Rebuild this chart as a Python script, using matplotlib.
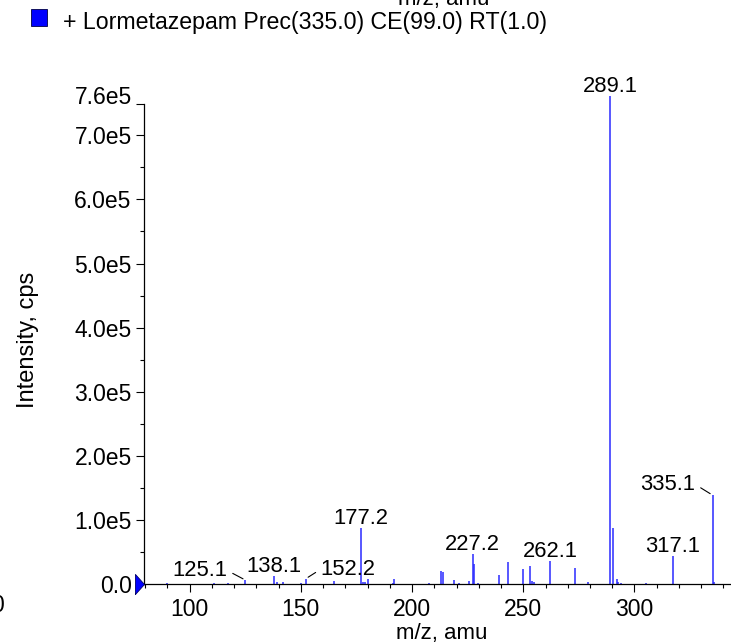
import numpy as np
import matplotlib
matplotlib.use('Agg')
import matplotlib.pyplot as plt
from matplotlib.ticker import MultipleLocator, FixedLocator

plt.rcParams['font.family'] = ['Liberation Sans', 'DejaVu Sans']

# product ion spectrum, m/z and intensity (cps)
mz = [90.0, 111.1, 117.1, 125.1, 138.1, 139.1, 142.1, 150.0, 152.2, 165.1,
      177.2, 178.1, 178.9, 180.1, 191.3, 192.0, 207.6, 213.1, 214.1, 219.0,
      221.0, 225.8, 227.2, 228.0, 229.8, 239.0, 243.0, 250.0, 253.1, 254.1,
      255.0, 262.1, 273.2, 279.0, 289.1, 290.5, 292.0, 292.8, 294.0, 305.1,
      317.1, 335.1, 335.9]
intensity = [1500, 2500, 2000, 6500, 13000, 3000, 3600, 2500, 8700, 5600,
             88000, 3000, 3000, 8000, 2500, 8000, 1500, 21000, 19000, 7000,
             1500, 5000, 47000, 31000, 1500, 14000, 34000, 24000, 28500, 5000,
             4000, 36000, 25000, 3000, 761000, 87000, 8000, 4000, 2000, 2500,
             44000, 139000, 3000]

labeled = [125.1, 138.1, 152.2, 177.2, 227.2, 262.1, 289.1, 317.1, 335.1]
legend_text = '+ Lormetazepam Prec(335.0) CE(99.0) RT(1.0)'

W, H = 731, 643
fig = plt.figure(figsize=(W / 100, H / 100), dpi=100)
ax = fig.add_axes([144.3 / W, (H - 584.3) / H, (W - 144.3) / W, 480.3 / H])

ax.vlines(mz, 0, intensity, color='#2a2aff', lw=1.1, clip_on=False)

ax.set_xlim(79.6, 343.4)
ax.set_ylim(0, 7.487e5)

for s in ['top', 'right']:
    ax.spines[s].set_visible(False)
for s in ['left', 'bottom']:
    ax.spines[s].set_linewidth(0.9)

ax.set_xticks([100, 150, 200, 250, 300])
ax.xaxis.set_minor_locator(MultipleLocator(10))
ymax = ax.get_ylim()[1]
yt = [0, 1e5, 2e5, 3e5, 4e5, 5e5, 6e5, 7e5, ymax]
ylabels = ['0.0'] + ['%.1fe5' % (v / 1e5) for v in yt[1:-1]] + ['%.1fe5' % (max(intensity) / 1e5)]
ax.set_yticks(yt)
ax.set_yticklabels(ylabels)
ax.yaxis.set_minor_locator(FixedLocator(np.arange(0.5e5, 7.0e5, 1e5)))
ax.tick_params(which='major', length=5.8, width=0.8, labelsize=16.5, pad=3.3)
ax.tick_params(which='minor', length=3, width=0.8)
ax.tick_params(axis='x', pad=4)
ax.get_yticklabels()[-1].set_va('baseline')

ax.set_xlabel('m/z, amu', fontsize=16, va='baseline')
ax.xaxis.set_label_coords(0.507, -0.114)
ax.set_ylabel('Intensity, cps', fontsize=17, va='center')
ax.yaxis.set_label_coords(-0.198, 0.509)

# peak labels: (dx, dy) offset in pixels, alignment, leader relpos
styles = {125.1: (-18, 4, 'right', (1, 0.5)),
          152.2: (15, 4, 'left', (0, 0.5)),
          335.1: (-17, 5, 'right', (1, 0.5))}
for m in labeled:
    h = intensity[mz.index(m)]
    dx, dy, ha, rel = styles.get(m, (0, 4, 'center', None))
    kw = {}
    if rel is not None:
        kw['arrowprops'] = dict(arrowstyle='-', color='black', lw=0.8,
                                shrinkA=2, shrinkB=2, relpos=rel)
    ax.annotate('%.1f' % m, xy=(m, h), xytext=(dx, dy), textcoords='offset pixels',
                ha=ha, va='baseline', fontsize=15.8, annotation_clip=False, **kw)

# precursor marker at the left of the baseline
tri = [(-0.9, -1), (0, 0), (-0.9, 1), (-0.9, -1)]
ax.plot([ax.get_xlim()[0]], [0], marker=tri, markersize=14.5, color='blue',
        markeredgecolor='#000066', markeredgewidth=0.6, clip_on=False, zorder=5)

# legend entry
fig.patches.append(plt.Rectangle((31 / W, (H - 26) / H), 16 / W, 17 / H,
                                 transform=fig.transFigure, facecolor='blue',
                                 edgecolor='#000044', lw=0.6))
fig.text(63 / W, (H - 29) / H, legend_text, fontsize=16.7, va='baseline')

# pieces of neighbouring panels cut by the frame
fig.text(444 / W, (H - 5.5) / H, 'm/z, amu', fontsize=16, ha='center', va='baseline')
fig.text(-2 / W, (H - 611.7) / H, '0', fontsize=16.5, ha='center', va='baseline')

fig.savefig('out.png', dpi=100)
